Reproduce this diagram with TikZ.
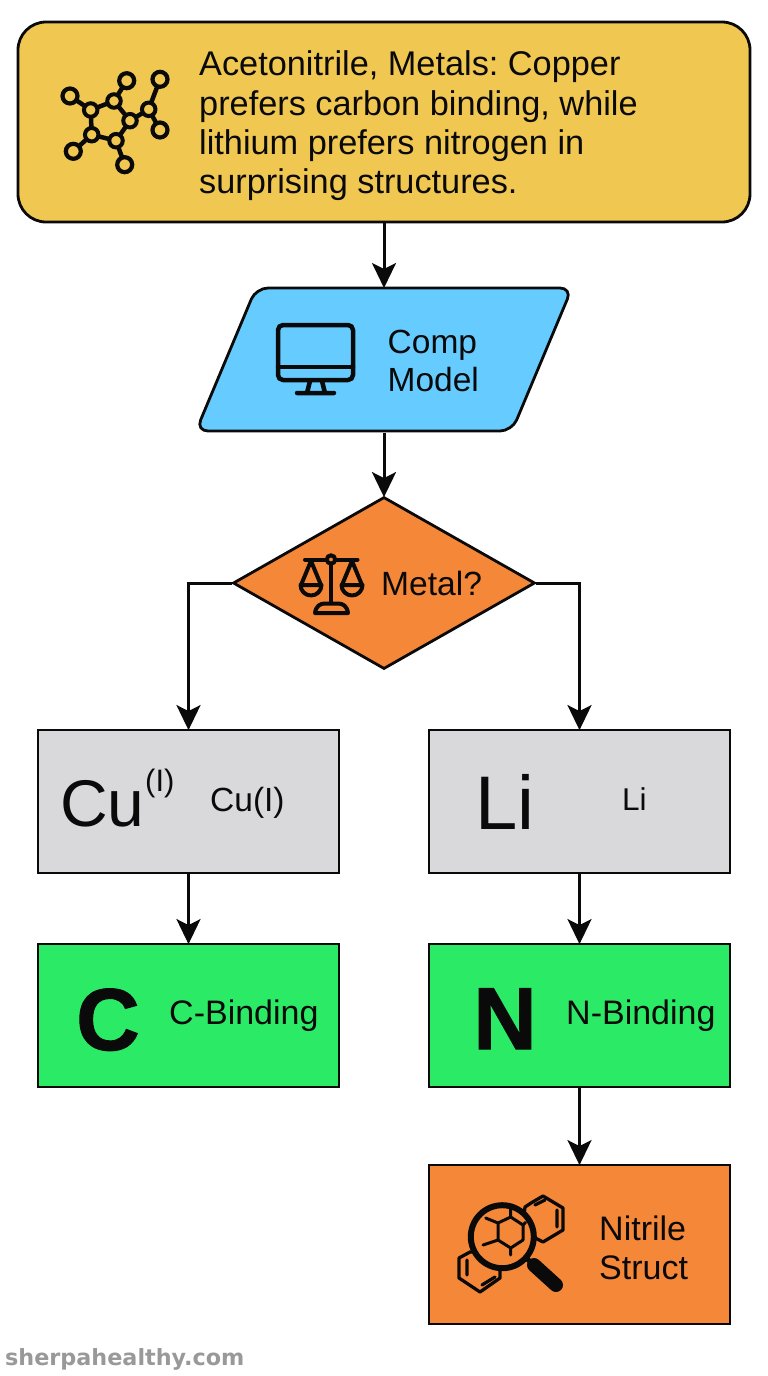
\documentclass[tikz,border=0pt]{standalone}
\usepackage{fontspec}
\setmainfont{Liberation Sans}
\newfontfamily\wmfont{DejaVu Sans}
\usetikzlibrary{arrows.meta,shapes.geometric,calc}
\definecolor{cyellow}{HTML}{F0C750}
\definecolor{cblue}{HTML}{66CCFF}
\definecolor{corange}{HTML}{F58738}
\definecolor{cgray}{HTML}{D9D9DB}
\definecolor{cgreen}{HTML}{2BEB66}
\definecolor{cink}{HTML}{0A0A0A}
\frenchspacing
\tikzset{
  box/.style={draw=cink,line width=2.8pt,inner sep=0pt,rectangle,minimum width=301pt},
  flow/.style={draw=cink,line width=3pt,shorten >=-1.5pt,-{Stealth[length=25pt,width=24pt,inset=6pt]}},
  lab/.style={text=cink,font=\fontsize{34.3}{39.3}\selectfont,inner sep=0pt,align=left},
  icon/.style={draw=cink,line width=4.5pt,line cap=round,line join=round},
  atom/.style={circle,draw=cink,line width=4.2pt,fill=cyellow,minimum size=15pt,inner sep=0pt},
  thinicon/.style={draw=cink,line width=3.3pt,line cap=round,line join=round},
  scaleicon/.style={draw=cink,line width=4pt,line cap=round,line join=round},
}
\begin{document}
\begin{tikzpicture}[x=1pt,y=-1pt]
\useasboundingbox (0,0) rectangle (768,1376);
\fill[white] (0,0) rectangle (768,1376);
% boxes
\node[box,fill=cyellow,rounded corners=28pt,minimum width=732pt,minimum height=200pt] (top) at (384,122) {};
\draw[draw=cink,line width=2.8pt,fill=cblue,rounded corners=12pt] (256,288) -- (572,288) -- (512,431) -- (196,431) -- cycle;
\node[rectangle,inner sep=0pt,minimum width=100pt,minimum height=143pt,outer sep=1.5pt] (model) at (384,359.5) {};
\node[diamond,draw=cink,line width=2.8pt,fill=corange,inner sep=0pt,aspect=1.755,minimum width=302pt,minimum height=172pt] (metal) at (384,583) {};
\node[box,fill=cgray,minimum height=143pt] (cu) at (188.5,801.5) {};
\node[box,fill=cgray,minimum height=143pt] (li) at (579.5,801.5) {};
\node[box,fill=cgreen,minimum height=143pt] (cb) at (188.5,1015.5) {};
\node[box,fill=cgreen,minimum height=143pt] (nb) at (579.5,1015.5) {};
\node[box,fill=corange,minimum height=159pt] (ns) at (579.5,1244.5) {};
% connectors
\draw[flow] (top) -- (model);
\draw[flow] (model) -- (metal);
\draw[flow] (metal.west) -| (cu.north);
\draw[flow] (metal.east) -| (li.north);
\draw[flow] (cu) -- (cb);
\draw[flow] (li) -- (nb);
\draw[flow] (nb) -- (ns);
% texts
\node[lab,anchor=west] (t1) at (199,126) {Acetonitrile, Metals: Copper\\prefers carbon binding, while\\lithium prefers nitrogen in\\surprising structures.};
\node[lab,anchor=west,font=\fontsize{33.5}{38}\selectfont] (t2) at (387.5,360.5) {Comp\\Model};
\node[lab,anchor=west,font=\fontsize{33.6}{38}\selectfont] (t3) at (381,583) {Metal?};
\node[lab,anchor=base west,font=\fontsize{66}{70}\selectfont] (t4) at (60,826) {Cu};
\node[lab,anchor=base west,font=\fontsize{31}{34}\selectfont] (t5) at (145,791) {(I)};
\node[lab,anchor=west,font=\fontsize{33.5}{38}\selectfont] (t6) at (210,802.5) {Cu(I)};
\node[lab,anchor=base west,font=\fontsize{76}{80}\selectfont] (t7) at (475,829) {Li};
\node[lab,anchor=west,font=\fontsize{31.5}{36}\selectfont] (t8) at (622,799) {Li};
\node[lab,anchor=base west,font=\fontsize{88}{94}\selectfont\bfseries\addfontfeature{FakeBold=1.2}] (t9) at (76,1050) {C};
\node[lab,anchor=west,font=\fontsize{34}{38}\selectfont] (t10) at (169,1016) {C-Binding};
\node[lab,anchor=base west,font=\fontsize{88}{94}\selectfont\bfseries\addfontfeature{FakeBold=1.2}] (t11) at (473,1049) {N};
\node[lab,anchor=west,font=\fontsize{34}{38}\selectfont] (t12) at (566,1016) {N-Binding};
\node[lab,anchor=west,font=\fontsize{34}{39}\selectfont] (t13) at (599,1248) {Nitrile\\Struct};
\node[anchor=base west,inner sep=0pt,text=black!40,font=\wmfont\bfseries\fontsize{22.3}{26}\selectfont] (wm) at (5,1365) {sherpahealthy.com};
% molecule icon
\coordinate (r1) at (90.7,110);
\coordinate (r2) at (114,101);
\coordinate (r3) at (130,120.7);
\coordinate (r4) at (116,140.7);
\coordinate (r5) at (91.7,134.7);
\coordinate (o1) at (70,96);
\coordinate (o2) at (126.7,80.7);
\coordinate (o3) at (160,79.3);
\coordinate (o4) at (148.7,109.3);
\coordinate (o5) at (160,130);
\coordinate (o6) at (124.7,164.7);
\coordinate (o7) at (73.3,151.3);
\draw[icon] (r1)--(r2)--(r3)--(r4)--(r5)--cycle;
\draw[icon] (r1)--(o1) (r2)--(o2) (r3)--(o4)--(o3) (o4)--(o5) (r4)--(o6) (r5)--(o7);
\foreach \p in {r1,r2,r3,r4,r5,o4} \node[atom,minimum size=13.5pt,line width=4pt] at (\p) {};
\foreach \p in {o1,o2,o3,o5,o6,o7} \node[atom] at (\p) {};
% monitor
\draw[icon,rounded corners=5pt] (278,325) rectangle (353,380);
\draw[icon] (278,367) -- (353,367);
\draw[icon] (310,381) -- (307,393) (322,381) -- (325,393) (297,393) -- (334,393);
% scales
\draw[scaleicon] (305,559.5) -- (327,559.5) (335,559.5) -- (357.5,559.5) (331,564) -- (331,603);
\draw[scaleicon] (331,559.5) circle (4.2);
\draw[scaleicon] (301,585) -- (311,561) -- (321,585) (342,585) -- (352,561) -- (362,585);
\draw[scaleicon] (321.5,585) -- (300.5,585) arc (180:0:10.5);
\draw[scaleicon] (362.5,585) -- (341.5,585) arc (180:0:10.5);
\draw[scaleicon] (315,613) .. controls (316,606) and (320,603.5) .. (325,603.5) -- (338,603.5) .. controls (343,603.5) and (347,606) .. (348,613) -- cycle;
% magnifier
\draw[thinicon] (531,1203) -- (543,1196) -- (563,1208) -- (563,1230) -- (543,1242) -- (522,1231) -- (525,1207) -- cycle;
\draw[thinicon] (535,1205) -- (545,1200) (557,1210) -- (557,1227);
\draw[thinicon] (470,1252) -- (459,1258) -- (459,1278) -- (480,1292) -- (500,1278) -- (500,1268) -- (480,1252) -- cycle;
\draw[thinicon] (467,1260) -- (467,1275) (482,1285) -- (495,1277);
\fill[corange] (502.3,1236.7) circle (31.5);
\draw[draw=cink,line width=6pt] (502.3,1236.7) circle (31.5);
\draw[thinicon,line width=3pt] (510.7,1217) -- (523,1225) -- (523,1240) -- (510.7,1248) -- (498,1240) -- (498,1223) -- cycle;
\draw[thinicon,line width=3pt] (510.7,1217) -- (510.7,1208) (498,1223) -- (485.7,1218) (498,1240) -- (483,1245) (510.7,1248) -- (510.7,1255) (523,1225) -- (525.5,1222.5);
\draw[draw=cink,line width=5pt] (525,1257) -- (534,1265);
\draw[draw=cink,line width=14pt,line cap=round] (534,1265) -- (556,1285);
\end{tikzpicture}
\end{document}
